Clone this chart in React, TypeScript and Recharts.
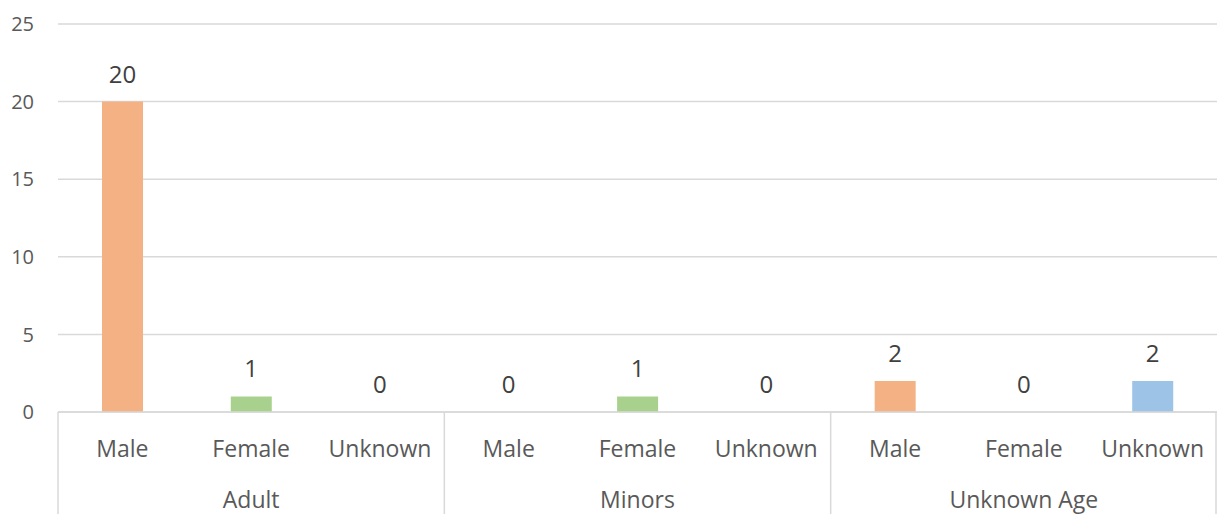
import React from 'react';
import { ComposedChart, Bar, Line, XAxis, YAxis, CartesianGrid, Cell, LabelList } from 'recharts';

// values
const groups = ['Adult', 'Minors', 'Unknown Age'];
const genders = ['Male', 'Female', 'Unknown'];
const counts = [20, 1, 0, 0, 1, 0, 2, 0, 2];
const yTicks = [0, 5, 10, 15, 20, 25];

const genderColors: Record<string, string> = {
    Male: '#F4B183',
    Female: '#A9D18E',
    Unknown: '#9DC3E6',
};

const data = counts.map((value, i) => ({
    gender: genders[i % 3],
    group: groups[Math.floor(i / 3)],
    value,
}));

const W = 1217;
const H = 514;
const Y_AXIS_W = 58;
const FONT = '"Open Sans", sans-serif';
const BAND = (W - Y_AXIS_W) / data.length;

// two-level category tick: gender on first row, group label under the middle item, separators between groups
const TwoLevelTick = (props: any) => {
    const { x, y, payload } = props;
    const i = payload.index;
    const row = data[i];
    return (
        <g>
            <text x={x} y={y + 45} textAnchor="middle" fill="#595959" fontSize={23} fontFamily={FONT}>
                {row.gender}
            </text>
            {i % 3 === 1 && (
                <text x={x} y={y + 96} textAnchor="middle" fill="#595959" fontSize={23} fontFamily={FONT}>
                    {row.group}
                </text>
            )}
            {i % 3 === 0 && (
                <line x1={x - BAND / 2} x2={x - BAND / 2} y1={y} y2={H} stroke="#d9d9d9" strokeWidth={1.5} />
            )}
            {i === data.length - 1 && (
                <line x1={x + BAND / 2 - 1} x2={x + BAND / 2 - 1} y1={y} y2={H} stroke="#d9d9d9" strokeWidth={1.5} />
            )}
        </g>
    );
};

// value label above each point, zeros included (bars of height 0 get no rect, so labels ride on a hidden line)
const ValueLabel = (props: any) => {
    const { x, y, value } = props;
    return (
        <text x={x} y={Number(y) - 19} textAnchor="middle" fill="#404040" fontSize={24} fontFamily={FONT}>
            {String(value)}
        </text>
    );
};

export default function App() {
    return (
        <div style={{ position: 'absolute', left: 0, top: 0, width: W, height: H, background: '#fff', fontFamily: FONT }}>
            <ComposedChart width={W} height={H} data={data} margin={{ top: 24, right: 0, left: 0, bottom: 0 }}>
                <CartesianGrid vertical={false} stroke="#d9d9d9" strokeWidth={1.5} />
                <XAxis
                    dataKey="gender"
                    interval={0}
                    height={102}
                    axisLine={{ stroke: '#d9d9d9', strokeWidth: 1.5 }}
                    tickLine={false}
                    tickSize={0}
                    tickMargin={0}
                    tick={<TwoLevelTick />}
                />
                <YAxis
                    width={Y_AXIS_W}
                    domain={[0, 25]}
                    ticks={yTicks}
                    axisLine={false}
                    tickLine={false}
                    tickSize={0}
                    tickMargin={24}
                    tick={{ fill: '#595959', fontSize: 20, fontFamily: FONT }}
                />
                <Bar dataKey="value" barSize={41} isAnimationActive={false}>
                    {data.map((d, i) => (
                        <Cell key={`c-${i}`} fill={genderColors[d.gender]} />
                    ))}
                </Bar>
                <Line dataKey="value" stroke="none" dot={false} activeDot={false} isAnimationActive={false}>
                    <LabelList dataKey="value" content={<ValueLabel />} />
                </Line>
            </ComposedChart>
        </div>
    );
}
